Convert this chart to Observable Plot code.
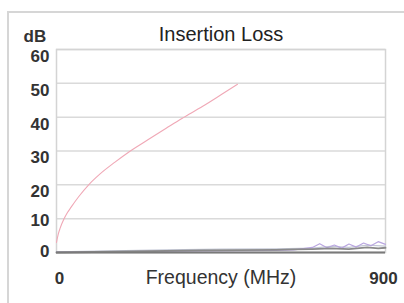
<!DOCTYPE html>
<html>
<head>
<meta charset="utf-8">
<script src="https://cdn.jsdelivr.net/npm/d3@7"></script>
<script src="https://cdn.jsdelivr.net/npm/@observablehq/plot@0.6"></script>
<style>
  html, body { margin: 0; padding: 0; background: #fff; }
  #wrap { position: relative; width: 404px; height: 303px; overflow: hidden; font-family: "Liberation Sans", Arial, sans-serif; }
  #frame { position: absolute; left: 7px; top: 11px; width: 410px; height: 290px; border-left: 2px solid #d6d6d6; border-top: 2px solid #d6d6d6; }
  #chart { position: absolute; left: 0; top: 0; }
</style>
</head>
<body>
<div id="wrap"><div id="frame"></div><div id="chart"></div></div>
<script>
const yTicks = [0, 10, 20, 30, 40, 50, 60];
const xTicks = [0, 900];

// Red insertion loss curve (MHz, dB)
const redFreq = [0, 5, 10, 20, 30, 40, 60, 88, 120, 160, 202, 250, 300, 343, 400, 450, 495];
const redDb   = [3, 5.5, 7.2, 9.8, 11.8, 13.4, 16.4, 20, 23.3, 26.7, 30, 33.3, 36.7, 39.6, 43.2, 46.6, 49.7];

// Low-loss traces near 0 dB
const greyFreq = [0, 100, 200, 300, 400, 500, 600, 650, 700, 750, 800, 850, 880, 900];
const greyDb   = [0, 0.15, 0.3, 0.5, 0.6, 0.7, 0.8, 0.9, 1.0, 1.2, 1.0, 1.5, 1.2, 1.4];

const purpleFreq = [0, 200, 400, 600, 650, 700, 720, 740, 760, 780, 800, 820, 840, 860, 880, 900];
const purpleDb   = [0.1, 0.3, 0.5, 0.6, 0.8, 1.5, 2.6, 1.4, 2.2, 1.3, 2.5, 1.6, 2.8, 2.0, 3.2, 2.4];

const lightFreq = [0, 150, 300, 450, 600, 700, 750, 800, 850, 900];
const lightDb   = [0.2, 0.5, 0.8, 1.0, 1.1, 1.3, 1.8, 1.5, 2.2, 1.9];

const red = redFreq.map((f, i) => ({f, db: redDb[i]}));
const grey = greyFreq.map((f, i) => ({f, db: greyDb[i]}));
const purple = purpleFreq.map((f, i) => ({f, db: purpleDb[i]}));
const light = lightFreq.map((f, i) => ({f, db: lightDb[i]}));

const yTickStyle = { tickSize: 0, tickPadding: 7, fontSize: 17, fontWeight: "bold", fill: "#333", label: null };
const xTickStyle = { tickSize: 0, tickPadding: 19, fontSize: 17, fontWeight: "bold", fill: "#333", textAnchor: "middle", tickFormat: d => d, label: null };

const chart = Plot.plot({
  width: 404,
  height: 303,
  marginLeft: 56,
  marginRight: 19,
  marginTop: 49,
  marginBottom: 51,
  style: { fontFamily: "Liberation Sans, Arial, sans-serif", background: "transparent" },
  x: { domain: [0, 900], label: null },
  y: { domain: [0, 60], label: null },
  marks: [
    Plot.gridY(yTicks, { stroke: "#dadada", strokeOpacity: 1, strokeWidth: 1.5 }),
    Plot.frame({ stroke: "#d4d4d4", strokeWidth: 1.5 }),
    Plot.axisY(yTicks.filter(d => d === 0), { ...yTickStyle, dy: -1 }),
    Plot.axisY(yTicks.filter(d => d === 10), { ...yTickStyle, dy: 2 }),
    Plot.axisY(yTicks.filter(d => d >= 20), { ...yTickStyle, dy: 7 }),
    Plot.axisX(xTicks.filter(d => d === 0), { ...xTickStyle, dx: 3 }),
    Plot.axisX(xTicks.filter(d => d === 900), { ...xTickStyle, dx: -2 }),
    Plot.line(light, { x: "f", y: "db", stroke: "#c4c8d6", strokeWidth: 1.3 }),
    Plot.line(purple, { x: "f", y: "db", stroke: "#b9a6e0", strokeWidth: 1.2 }),
    Plot.line(grey, { x: "f", y: "db", stroke: "#8a8a8a", strokeWidth: 1.8 }),
    Plot.ruleY([0], { stroke: "#7a7a7a", strokeWidth: 2 }),
    Plot.line(red, { x: "f", y: "db", stroke: "#f0a8b6", strokeWidth: 1.1, curve: "monotone-x" }),
    Plot.text(["Insertion Loss"], { frameAnchor: "top", lineAnchor: "middle", dy: -15, fontSize: 20, fill: "#222" }),
    Plot.text(["dB"], { frameAnchor: "top-left", lineAnchor: "middle", dx: -33, dy: -13, fontSize: 17, fontWeight: "bold", fill: "#333", textAnchor: "start" }),
    Plot.text(["Frequency (MHz)"], { frameAnchor: "bottom", lineAnchor: "middle", dy: 25, fontSize: 19.5, fill: "#333" })
  ]
});
document.getElementById("chart").appendChild(chart);
</script>
</body>
</html>
